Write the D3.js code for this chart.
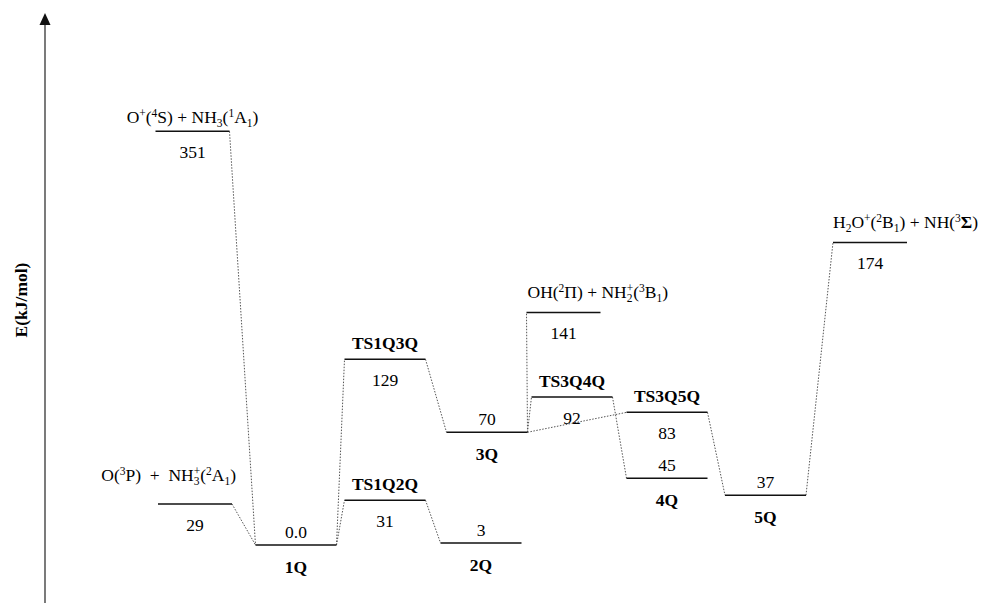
<!DOCTYPE html>
<html>
<head>
<meta charset="utf-8">
<script src="https://cdnjs.cloudflare.com/ajax/libs/d3/7.8.5/d3.min.js"></script>
<style>
  body { margin: 0; background: #fff; }
  svg { display: block; font-family: "Liberation Serif", "Times New Roman", serif; }
  text { white-space: pre; }
</style>
</head>
<body>
<div id="chart"></div>
<script>
// species on the surface (ids), their labels (mini markup: ^{} sup, _{} sub, !{} bold)
var species = ["O+4S", "O3P", "1Q", "TS1Q2Q", "TS1Q3Q", "2Q", "3Q", "OHNH2", "TS3Q4Q", "TS3Q5Q", "4Q", "5Q", "H2ONH"];
var names = [
    "O^{+}(^{4}S) + NH_{3}(^{1}A_{1})",
    "O(^{3}P)  +  NH_{3}^{+}(^{2}A_{1})",
    "1Q", "TS1Q2Q", "TS1Q3Q", "2Q", "3Q",
    "OH(^{2}Π) + NH_{2}^{+}(^{3}B_{1})",
    "TS3Q4Q", "TS3Q5Q", "4Q", "5Q",
    "H_{2}O^{+}(^{2}B_{1}) + NH(^{3}!{Σ})"
];
var energies = ["351", "29", "0.0", "31", "129", "3", "70", "141", "92", "83", "45", "37", "174"];
var kinds = ["asym", "asym", "min", "ts", "ts", "min", "min", "asym", "ts", "ts", "min", "min", "asym"];
// reaction coordinate (centre of each level) and schematic drawn height
var reactionCoord = [1.925, 1.95, 2.96, 3.85, 3.85, 4.81, 4.87, 5.635, 5.72, 6.67, 6.67, 7.655, 8.70];
var drawnLevel = [99.8, 9.9, 0, 10.8, 44.8, 0.5, 27.2, 56.1, 35.7, 32.0, 16.1, 12.0, 73.0];
// dotted connections between levels
var links = [
    ["O+4S", "1Q"], ["O3P", "1Q"], ["1Q", "TS1Q3Q"], ["1Q", "TS1Q2Q"],
    ["TS1Q2Q", "2Q"], ["TS1Q3Q", "3Q"], ["3Q", "OHNH2"], ["3Q", "TS3Q4Q"],
    ["3Q", "TS3Q5Q"], ["TS3Q4Q", "4Q"], ["TS3Q5Q", "5Q"], ["5Q", "H2ONH"]
];

var width = 983, height = 603;
var fs = 17.5;

var data = species.map(function (id, i) {
    return { id: id, name: names[i], energy: energies[i], kind: kinds[i], x: reactionCoord[i], level: drawnLevel[i] };
});
var byId = {};
data.forEach(function (d) { byId[d.id] = d; });

var xScale = d3.scaleLinear().domain([0, 10]).range([0, 1000]);
var yScale = d3.scaleLinear().domain([0, 100]).range([545, 130.5]);

var halfW = function (d) { return d.kind === "asym" ? 37 : 40.5; };
var x0 = function (d) { return xScale(d.x) - halfW(d); };
var x1 = function (d) { return xScale(d.x) + halfW(d); };
var yL = function (d) { return yScale(d.level); };

var svg = d3.select("#chart").append("svg")
    .attr("width", width)
    .attr("height", height);

// energy axis with arrow
svg.append("line")
    .attr("x1", 45).attr("x2", 45)
    .attr("y1", 22).attr("y2", height)
    .attr("stroke", "#222").attr("stroke-width", 1.2);
svg.append("path")
    .attr("d", "M45,13 L39.5,25 L50.5,25 Z")
    .attr("fill", "#111");

svg.append("text")
    .attr("transform", "translate(27,300) rotate(-90)")
    .attr("text-anchor", "middle")
    .style("font-weight", "bold")
    .style("font-size", "17.5px")
    .text("E(kJ/mol)");

// dotted connectors
svg.selectAll(".link")
    .data(links)
    .enter().append("line")
    .attr("class", "link")
    .attr("x1", function (l) { return x1(byId[l[0]]); })
    .attr("y1", function (l) { return yL(byId[l[0]]); })
    .attr("x2", function (l) { return x0(byId[l[1]]); })
    .attr("y2", function (l) { return yL(byId[l[1]]); })
    .attr("stroke", "#555")
    .attr("stroke-width", 1)
    .attr("stroke-dasharray", "1.5,1.5");

// energy levels
svg.selectAll(".level")
    .data(data)
    .enter().append("line")
    .attr("class", "level")
    .attr("x1", x0)
    .attr("x2", x1)
    .attr("y1", yL)
    .attr("y2", yL)
    .attr("stroke", "#111")
    .attr("stroke-width", 1.5);

// write mini-markup as tspans; a superscript right after a subscript is stacked over it
function richText(sel, str) {
    var re = /([\^_!])\{([^}]*)\}|([^\^_!]+)/g, m, shift = 0, lastSub = null;
    while ((m = re.exec(str)) !== null) {
        if (m[3]) {
            sel.append("tspan").attr("dy", -shift).text(m[3]);
            shift = 0; lastSub = null;
        } else if (m[1] === "!") {
            sel.append("tspan").attr("dy", -shift).style("font-weight", "bold").text(m[2]);
            shift = 0; lastSub = null;
        } else {
            var s = m[1] === "^" ? -6 : 4;
            var ts = sel.append("tspan")
                .attr("dy", s - shift)
                .style("font-size", "11.5px")
                .text(m[2]);
            if (m[1] === "^" && lastSub) {
                ts.attr("dx", -lastSub.node().getComputedTextLength());
            }
            lastSub = m[1] === "_" ? ts : null;
            shift = s;
        }
    }
    if (shift) sel.append("tspan").attr("dy", -shift).text("\u200b");
}

// placement tweaks for the long asymptote labels
var namePlace = {
    "O+4S": { anchor: "middle", dy: -14 },
    "O3P": { anchor: "end", dy: -29, dx: 4 },
    "OHNH2": { anchor: "start", dy: -20, dx: 1 },
    "H2ONH": { anchor: "start", dy: -20, dx: 0 }
};

data.forEach(function (d) {
    var cx = xScale(d.x), y = yL(d);
    var g = svg.append("g");
    var nameY, valY;
    if (d.kind === "min") {
        valY = y - 13;
        nameY = y + 22;
    } else {
        valY = y + 21;
        nameY = y - 16;
    }
    var p = namePlace[d.id] || { anchor: "middle", dy: nameY - y, dx: 0 };
    var nx = p.anchor === "middle" ? cx : (p.anchor === "end" ? x1(d) + p.dx : x0(d) + p.dx);
    var t = g.append("text")
        .attr("x", nx)
        .attr("y", y + p.dy + 6)
        .attr("text-anchor", p.anchor)
        .style("font-size", fs + "px")
        .style("font-weight", d.kind === "asym" ? "normal" : "bold");
    richText(t, d.name);

    g.append("text")
        .attr("x", cx)
        .attr("y", valY + 6)
        .attr("text-anchor", "middle")
        .style("font-size", fs + "px")
        .text(d.energy);
});
</script>
</body>
</html>
